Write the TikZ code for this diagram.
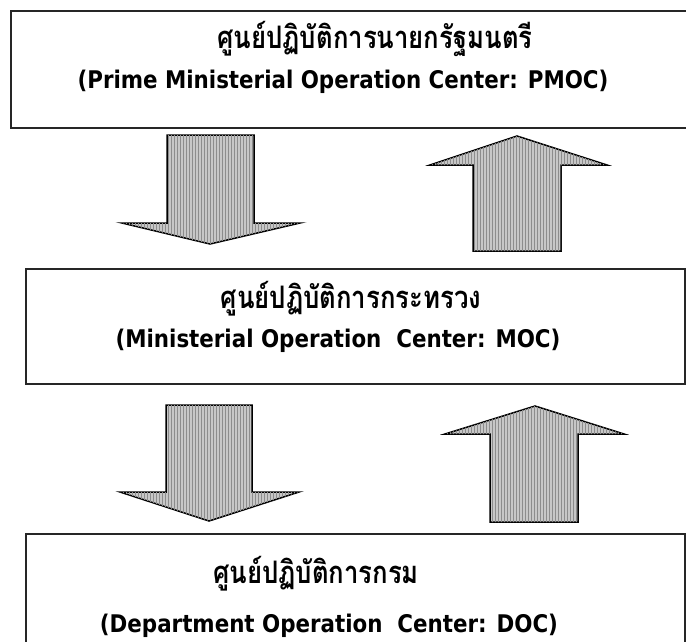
\documentclass[tikz,border=0pt]{standalone}
\usepackage{fontspec}
\usetikzlibrary{patterns}
\newfontfamily\thaifont[Script=Thai,FakeStretch=0.83]{Loma}
\newfontfamily\latinfont[FakeStretch=0.88]{DejaVu Sans}
\begin{document}
\begin{tikzpicture}[x=1pt,y=-1pt,
  panel/.style={draw=black!85, line width=1.6pt, inner sep=0pt, anchor=north west},
  blockarrow/.style={draw=black, line width=1.5pt, line join=miter, fill=black!22,
    postaction={pattern=vertical lines, pattern color=black!45}},
  th/.style={anchor=base, inner sep=0pt, font=\thaifont\bfseries\fontsize{31}{34}\selectfont},
  en/.style={anchor=base, inner sep=0pt, font=\latinfont\bfseries\fontsize{24.3}{28}\selectfont}]
\useasboundingbox (0,0) rectangle (686,641);

% three operation centres
\node[panel, minimum width=676pt, minimum height=117pt] (pmoc) at (10,10) {};
\node[panel, minimum width=659pt, minimum height=115pt] (moc) at (25,268) {};
\node[panel, minimum width=659pt, minimum height=130pt] (doc) at (25,533) {};

\node[th] (pmocth) at (375,48) {ศูนย์ปฏิบัติการนายกรัฐมนตรี};
\node[en] (pmocen) at (343,88) {(Prime Ministerial Operation Center: PMOC)};
\node[th] (mocth) at (351,308) {ศูนย์ปฏิบัติการกระทรวง};
\node[en] (mocen) at (338,347) {(Ministerial Operation\ \ Center: MOC)};
\node[th] (docth) at (316,583) {ศูนย์ปฏิบัติการกรม};
\node[en] (docen) at (329,632) {(Department Operation\ \ Center: DOC)};

% block arrows between PMOC and MOC
\draw[blockarrow] (167,135) -- (254,135) -- (254,223) -- (300,223) -- (210,244)
  -- (122,223) -- (167,223) -- cycle;
\draw[blockarrow] (517,136) -- (607,165) -- (561,165) -- (561,251) -- (473,251)
  -- (473,165) -- (430,165) -- cycle;

% block arrows between MOC and DOC
\draw[blockarrow] (166,405) -- (252,405) -- (252,492) -- (299,492) -- (209,521)
  -- (120,492) -- (166,492) -- cycle;
\draw[blockarrow] (535,406) -- (624,434) -- (578,434) -- (578,522) -- (490,522)
  -- (490,434) -- (445,434) -- cycle;
\end{tikzpicture}
\end{document}
